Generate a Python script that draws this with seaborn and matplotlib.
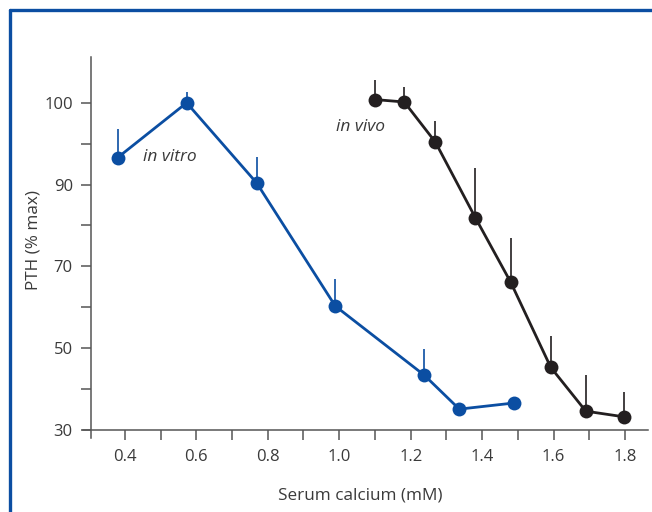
import numpy as np
import pandas as pd
import matplotlib
matplotlib.use("Agg")
import matplotlib.pyplot as plt
from matplotlib.lines import Line2D
from matplotlib.ticker import FixedLocator
import seaborn as sns

# ---- data ----
vitro_ca = [0.38, 0.573, 0.769, 0.989, 1.238, 1.336, 1.489]
vitro_pth = [93.3, 100.0, 90.2, 60.3, 43.4, 35.1, 36.6]
vitro_err_top = [96.8, 101.3, 93.4, 66.9, 49.8, 35.1, 36.6]

vivo_ca = [1.099, 1.182, 1.269, 1.381, 1.480, 1.592, 1.690, 1.798]
vivo_pth = [100.4, 100.1, 95.2, 81.9, 66.1, 45.3, 34.6, 33.2]
vivo_err_top = [102.8, 101.9, 97.8, 92.0, 76.9, 53.1, 43.4, 39.4]

x_ticks = [0.4, 0.6, 0.8, 1.0, 1.2, 1.4, 1.6, 1.8]
x_minor = [0.5, 0.7, 0.9, 1.1, 1.3, 1.5, 1.7]
y_ticks = [30, 50, 70, 90, 100]
y_minor = [40, 60, 80, 95]

BLUE = "#0b4ea2"
BLACK = "#231f20"
GREY = "#555555"
TXT = "#3a3a3a"

sns.set_theme(style="white")
plt.rcParams["font.family"] = ["Open Sans", "DejaVu Sans"]


# piecewise axis: 30-90 in steps of 20, then 90-100 in the same spacing
def fwd(v):
    v = np.asarray(v, dtype=float)
    return np.where(v <= 90, (v - 30) / 20.0, 3 + (v - 90) / 10.0)


def inv(u):
    u = np.asarray(u, dtype=float)
    return np.where(u <= 3, 30 + 20 * u, 90 + 10 * (u - 3))


fig = plt.figure(figsize=(6.52, 5.12), dpi=100)
ax = fig.add_axes([83 / 652, 1 - 438 / 512, 565 / 652, 381 / 512])
ax.set_yscale("function", functions=(fwd, inv))

df_vitro = pd.DataFrame({"ca": vitro_ca, "pth": vitro_pth})
df_vivo = pd.DataFrame({"ca": vivo_ca, "pth": vivo_pth})

# error bars (upward only)
ax.vlines(vitro_ca, vitro_pth, vitro_err_top, color=BLUE, lw=1.2, zorder=2)
ax.vlines(vivo_ca, vivo_pth, vivo_err_top, color=BLACK, lw=1.2, zorder=2)

sns.lineplot(data=df_vitro, x="ca", y="pth", ax=ax, sort=False, color=BLUE,
             lw=2.0, marker="o", markersize=10, markeredgewidth=0,
             markeredgecolor=BLUE, zorder=3)
sns.lineplot(data=df_vivo, x="ca", y="pth", ax=ax, sort=False, color=BLACK,
             lw=2.0, marker="o", markersize=10, markeredgewidth=0,
             markeredgecolor=BLACK, zorder=3)

ax.text(0.45, 93.4, "in vitro", style="italic", fontsize=12.5, color=TXT,
        va="center", ha="left")
ax.text(0.992, 97.0, "in vivo", style="italic", fontsize=12.5, color=TXT,
        va="center", ha="left")

ax.set_xlim(0.283, 1.864)
ax.set_ylim(28.04, 105.6)

for s in ["top", "right"]:
    ax.spines[s].set_visible(False)
for s in ["left", "bottom"]:
    ax.spines[s].set_color(GREY)
    ax.spines[s].set_linewidth(1.1)
ax.spines["left"].set_position(("data", 0.305))
ax.spines["bottom"].set_position(("data", 30))

ax.xaxis.set_major_locator(FixedLocator(x_ticks))
ax.xaxis.set_minor_locator(FixedLocator(x_minor))
ax.yaxis.set_major_locator(FixedLocator(y_ticks))
ax.yaxis.set_minor_locator(FixedLocator(y_minor))
ax.set_xticklabels([f"{t:.1f}" for t in x_ticks])
ax.set_yticklabels([str(t) for t in y_ticks])

ax.tick_params(axis="both", which="both", direction="out", color=GREY,
               width=1.1, length=7, labelcolor=TXT, labelsize=12)
ax.tick_params(axis="x", which="both", bottom=True, pad=7)
ax.tick_params(axis="y", which="both", left=True, pad=6)

ax.set_xlabel("Serum calcium (mM)", fontsize=12.3, color=TXT)
ax.set_ylabel("PTH (% max)", fontsize=12.3, color=TXT)
ax.xaxis.set_label_coords((360 - 83) / 565, -(487 - 438) / 381)
ax.yaxis.set_label_coords(-(83 - 42) / 565, (438 - 240) / 381)

# blue frame (top and left edges visible)
fig.add_artist(Line2D([9.7 / 652, 9.7 / 652], [-0.05, 1 - 9.7 / 512],
                      transform=fig.transFigure, color=BLUE, lw=2.4))
fig.add_artist(Line2D([9.7 / 652, 1.05], [1 - 9.7 / 512, 1 - 9.7 / 512],
                      transform=fig.transFigure, color=BLUE, lw=2.4))

fig.savefig("out.png", dpi=100, facecolor="white")
